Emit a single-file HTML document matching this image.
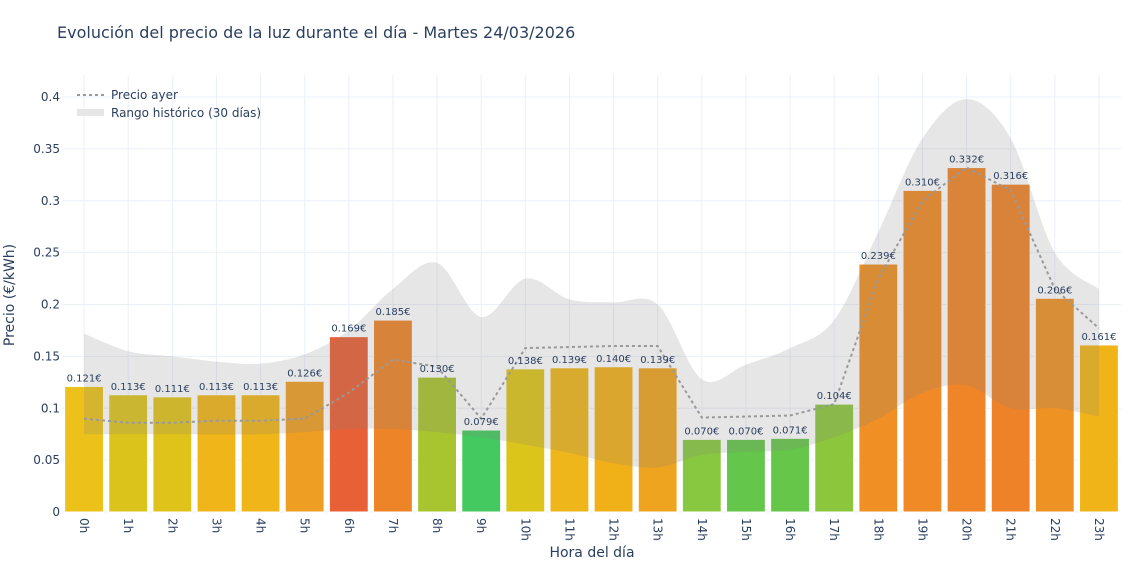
<!DOCTYPE html>
<html><head><meta charset="utf-8"><style>
body{margin:0;background:#fff;font-family:"Liberation Sans","DejaVu Sans",sans-serif}
svg text{font-family:"DejaVu Sans","Liberation Sans",sans-serif}
</style></head><body>
<svg id="c" width="1140" height="570" xmlns="http://www.w3.org/2000/svg">
<text x="57" y="38" font-size="16" fill="#2a3f5f">Evolución del precio de la luz durante el día - Martes 24/03/2026</text>
<g id="grid"></g><g id="bars"></g><g id="band"></g><g id="line"></g><g id="labels"></g><g id="axes"></g><g id="xaxis"></g>
<text x="592" y="557" font-size="14" fill="#2a3f5f" text-anchor="middle">Hora del día</text>
<text transform="translate(14,295) rotate(-90)" font-size="14" fill="#2a3f5f" text-anchor="middle">Precio (€/kWh)</text>
<g>
<line x1="77" y1="95" x2="104" y2="95" stroke="#999" stroke-width="2" stroke-dasharray="3,3"/>
<text x="111" y="99" font-size="12" fill="#2a3f5f">Precio ayer</text>
<rect x="77" y="109" width="27" height="7" fill="#e6e6e6"/>
<text x="111" y="117" font-size="12" fill="#2a3f5f">Rango histórico (30 días)</text>
</g>
</svg>
<script>
const hours=["0h","1h","2h","3h","4h","5h","6h","7h","8h","9h","10h","11h","12h","13h","14h","15h","16h","17h","18h","19h","20h","21h","22h","23h"];
const prices=[0.121,0.113,0.111,0.113,0.113,0.126,0.169,0.185,0.130,0.079,0.138,0.139,0.140,0.139,0.070,0.070,0.071,0.104,0.239,0.310,0.332,0.316,0.206,0.161];
const barColors=["#ecc21a","#dcc31c","#e0c31a","#f0b518","#f0b518","#ee9e22","#e86035","#ee8428","#a8c42e","#44c860","#dcc51a","#eeb61a","#f0b018","#eea41e","#88c840","#64c64a","#66c64a","#8cc63c","#ef8f24","#ef8a26","#ef8527","#ee8228","#ee9224","#f0b418"];
const yesterday=[0.09,0.086,0.086,0.088,0.088,0.09,0.115,0.147,0.14,0.09,0.158,0.159,0.16,0.16,0.091,0.092,0.093,0.104,0.225,0.3,0.332,0.31,0.215,0.177];
const bandHigh=[0.172,0.155,0.15,0.145,0.143,0.152,0.175,0.215,0.24,0.188,0.225,0.205,0.202,0.2,0.128,0.142,0.158,0.185,0.27,0.36,0.398,0.36,0.25,0.215];
const bandLow=[0.075,0.075,0.075,0.075,0.075,0.077,0.08,0.08,0.077,0.072,0.065,0.057,0.047,0.043,0.055,0.058,0.06,0.072,0.09,0.115,0.122,0.1,0.1,0.092];
const yTicks=[0,0.05,0.1,0.15,0.2,0.25,0.3,0.35,0.4];
const yTickLabels=["0","0.05","0.1","0.15","0.2","0.25","0.3","0.35","0.4"];
const NS="http://www.w3.org/2000/svg";
const X0=62,X1=1121,Y0=512,Y1=97;
const step=(X1-X0)/hours.length;
function px(i){return X0+step*(i+0.5);}
function py(v){return Y0-(v/0.4)*(Y0-Y1);}
function mk(t,a,p){const e=document.createElementNS(NS,t);for(const k in a)e.setAttribute(k,String(a[k]));p.appendChild(e);return e;}
const G=document.getElementById('grid');
const AX=document.getElementById('axes');
const XA=document.getElementById('xaxis');
const B=document.getElementById('bars');
const L=document.getElementById('labels');
yTicks.forEach(function(t,i){
 const l=mk('line',{x1:X0,x2:X1,y1:py(t),y2:py(t),stroke:'#ebf0f8'},G);
 
 
 const tx=mk('text',{x:X0-2,y:py(t)+4,'font-size':12,fill:'#2a3f5f','text-anchor':'end'},AX);
 tx.textContent=yTickLabels[i];
 
 
});
hours.forEach(function(h,i){
 const l=mk('line',{x1:px(i),x2:px(i),y1:Y1-22,y2:Y0,stroke:'#ebf0f8'},G);
 
 
 const xt=document.createElementNS(NS,'text');
 xt.setAttribute('transform','translate('+(px(i)-4)+','+(Y0+6)+') rotate(90)');
 xt.setAttribute('font-size','12');
 xt.setAttribute('fill','#2a3f5f');
 xt.textContent=h;
 
 
 XA.appendChild(xt);
});
const bw=step*0.88;
prices.forEach(function(v,i){
 try{
 const r=mk('rect',{x:px(i)-bw/2,y:py(v),width:bw,height:Y0-py(v),fill:barColors[i],stroke:'#fff','stroke-width':1},B);
 
 
 const t=mk('text',{x:px(i),y:py(v)-5,'font-size':10,fill:'#2a3f5f','text-anchor':'middle'},L);
 t.textContent=v.toFixed(3)+'€';
 
 
 }catch(e){}
});
function spline(pts){let d='M'+pts[0][0]+','+pts[0][1];for(let i=0;i<pts.length-1;i++){const p0=pts[Math.max(0,i-1)],p1=pts[i],p2=pts[i+1],p3=pts[Math.min(pts.length-1,i+2)];d+=' C'+(p1[0]+(p2[0]-p0[0])/6)+','+(p1[1]+(p2[1]-p0[1])/6)+' '+(p2[0]-(p3[0]-p1[0])/6)+','+(p2[1]-(p3[1]-p1[1])/6)+' '+p2[0]+','+p2[1];}return d;}
const hi=bandHigh.map(function(v,i){return [px(i),py(v)];});
const lo=bandLow.map(function(v,i){return [px(i),py(v)];}).reverse();
const bd=spline(hi)+' L'+spline(lo).slice(1)+' Z';
const band=mk('path',{d:bd,fill:'rgba(128,128,128,0.2)'},document.getElementById('band'));


const ln=mk('polyline',{points:yesterday.map(function(v,i){return px(i)+','+py(v);}).join(' '),fill:'none',stroke:'#999','stroke-width':2,'stroke-dasharray':'3,3'},document.getElementById('line'));


</script>
</body></html>
